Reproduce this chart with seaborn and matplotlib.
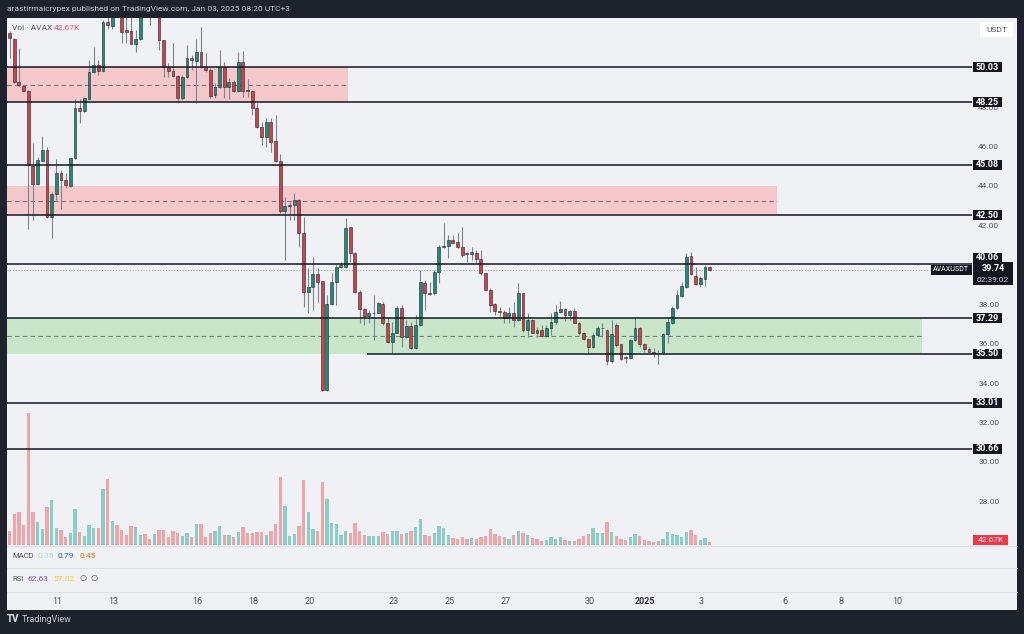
import numpy as np
import pandas as pd
import matplotlib
matplotlib.use("Agg")
import matplotlib.pyplot as plt
from matplotlib.patches import Rectangle
from matplotlib.lines import Line2D
import seaborn as sns

# AVAX/USDT 4h candles, Dec 09 07:00 -> Jan 03 07:00 (UTC+3)
opens = [51.77, 51.45, 49.29, 49.07, 48.82, 45.03, 44.08, 45.28, 45.82, 42.41,
         43.59, 44.64, 44.30, 44.01, 45.40, 47.94, 47.80, 48.41, 49.76, 50.13,
         49.83, 52.33, 52.11, 53.40, 52.90, 51.91, 51.87, 51.22, 51.44, 53.10,
         52.80, 52.70, 53.00, 51.39, 50.05, 49.85, 49.59, 48.44, 49.51, 50.47,
         50.35, 50.81, 50.05, 49.88, 48.61, 49.00, 50.05, 49.00, 49.29, 48.83,
         50.27, 48.87, 48.83, 47.94, 46.99, 46.47, 47.23, 46.30, 45.27, 42.75,
         42.98, 43.05, 43.29, 41.60, 38.64, 38.86, 39.53, 39.18, 33.65, 38.01,
         39.14, 39.87, 39.87, 41.90, 40.62, 38.64, 37.74, 37.40, 37.54, 37.57,
         38.01, 37.03, 36.10, 36.56, 37.83, 36.32, 36.90, 35.76, 36.95, 39.06,
         38.55, 38.55, 39.65, 40.92, 40.95, 41.26, 41.17, 40.88, 40.58, 40.55,
         40.58, 40.28, 39.57, 38.72, 38.02, 37.68, 37.61, 37.29, 37.58, 37.20,
         38.56, 36.70, 37.20, 36.70, 36.70, 36.39, 36.78, 37.09, 37.63, 37.75,
         37.46, 37.68, 37.07, 36.56, 36.22, 35.85, 36.44, 36.78, 36.70, 35.14,
         36.95, 35.99, 35.34, 35.26, 36.19, 36.78, 35.99, 35.75, 35.60, 35.55,
         35.51, 36.49, 37.07, 37.80, 38.44, 38.86, 40.45, 39.44, 39.01, 39.29,
         39.88]
highs = [51.85, 51.50, 50.98, 49.10, 48.85, 46.16, 45.49, 46.53, 45.99, 43.71,
         45.35, 44.81, 44.64, 45.40, 48.41, 48.41, 48.53, 50.39, 51.06, 50.39,
         52.42, 52.70, 53.30, 53.80, 53.10, 52.60, 52.60, 51.91, 53.30, 53.50,
         53.20, 53.40, 53.20, 51.40, 50.22, 51.23, 49.63, 49.63, 51.15, 50.64,
         51.44, 52.08, 50.73, 49.96, 49.20, 50.90, 50.30, 49.46, 49.37, 50.81,
         50.86, 49.41, 48.87, 48.19, 47.26, 47.43, 47.43, 47.60, 45.60, 43.46,
         43.20, 43.63, 43.32, 42.44, 39.82, 40.41, 39.82, 39.20, 38.47, 39.57,
         40.04, 40.16, 42.36, 41.93, 40.67, 38.72, 37.79, 37.71, 38.47, 38.13,
         38.13, 37.37, 37.12, 37.91, 37.96, 37.20, 37.12, 37.45, 39.74, 39.23,
         39.14, 39.74, 41.00, 42.10, 41.51, 41.51, 41.60, 41.93, 40.67, 40.92,
         40.75, 40.75, 39.60, 38.80, 38.08, 37.88, 37.71, 37.85, 38.13, 39.06,
         38.59, 37.54, 37.24, 36.87, 36.95, 36.95, 37.54, 37.97, 38.18, 37.80,
         37.71, 37.80, 37.12, 36.61, 36.27, 36.56, 36.90, 37.07, 36.73, 37.20,
         37.04, 35.99, 35.38, 36.22, 37.29, 36.83, 36.02, 35.85, 35.77, 35.68,
         36.53, 37.37, 37.91, 38.73, 39.15, 40.59, 40.67, 39.91, 39.44, 39.99,
         39.94]
lows = [50.47, 49.20, 49.04, 48.80, 41.80, 42.27, 44.05, 45.28, 42.36, 41.34,
        43.30, 42.81, 43.90, 43.96, 45.35, 47.21, 47.77, 48.36, 49.71, 49.63,
        49.80, 51.95, 51.95, 52.60, 51.23, 51.23, 51.18, 50.81, 51.40, 52.60,
        52.16, 52.60, 50.90, 49.54, 49.54, 49.54, 48.19, 48.36, 49.46, 49.88,
        48.19, 49.96, 49.80, 48.44, 48.44, 48.95, 48.44, 48.39, 48.78, 48.78,
        48.53, 48.53, 47.60, 46.92, 46.08, 45.99, 45.74, 45.23, 42.65, 40.25,
        42.27, 42.27, 40.92, 37.88, 37.54, 37.71, 38.13, 33.60, 33.60, 37.96,
        37.96, 39.82, 39.82, 40.16, 38.55, 37.03, 36.95, 37.03, 36.19, 37.54,
        36.95, 36.02, 35.51, 36.52, 35.85, 36.27, 35.71, 35.71, 36.90, 37.71,
        38.47, 38.47, 39.06, 40.83, 40.33, 41.12, 40.83, 40.41, 40.16, 40.24,
        40.11, 39.48, 38.72, 37.63, 37.46, 37.37, 37.04, 37.07, 36.87, 37.17,
        36.61, 36.36, 36.53, 36.33, 36.36, 36.36, 36.44, 37.00, 37.54, 37.17,
        37.20, 37.04, 36.44, 36.19, 35.51, 35.77, 36.36, 36.36, 34.92, 35.04,
        35.85, 35.18, 35.01, 35.21, 36.16, 35.85, 35.60, 35.58, 35.34, 34.97,
        35.48, 36.02, 37.00, 37.75, 38.39, 38.81, 39.49, 38.98, 38.86, 38.93,
        39.71]
closes = [51.49, 49.29, 49.12, 48.82, 45.06, 44.08, 45.32, 45.82, 42.41, 43.59,
          44.64, 44.30, 44.05, 45.40, 47.94, 47.80, 48.48, 49.76, 50.13, 49.83,
          52.33, 52.16, 52.90, 53.00, 51.79, 51.79, 51.22, 51.44, 53.00, 52.80,
          52.70, 53.00, 51.39, 50.05, 49.85, 49.59, 48.44, 49.51, 50.47, 50.39,
          50.81, 50.05, 49.88, 48.58, 49.00, 50.05, 49.00, 49.29, 48.83, 50.27,
          48.83, 48.83, 47.94, 46.99, 46.47, 47.23, 46.25, 45.27, 42.73, 42.98,
          43.05, 43.29, 41.60, 38.64, 38.86, 39.53, 39.14, 33.65, 38.01, 39.14,
          39.87, 40.00, 41.85, 40.62, 38.64, 37.74, 37.40, 37.54, 37.57, 38.05,
          37.03, 36.10, 36.56, 37.83, 36.32, 36.90, 35.76, 36.95, 39.14, 38.55,
          38.52, 39.65, 40.92, 40.95, 41.26, 41.12, 40.88, 40.50, 40.55, 40.67,
          40.28, 39.57, 38.70, 37.97, 37.68, 37.61, 37.29, 37.58, 37.20, 38.56,
          36.70, 37.20, 36.56, 36.56, 36.39, 36.82, 37.09, 37.59, 37.75, 37.46,
          37.66, 37.07, 36.56, 36.22, 35.85, 36.44, 36.78, 36.82, 35.14, 36.49,
          35.94, 35.21, 35.26, 36.19, 36.78, 35.99, 35.72, 35.60, 35.55, 35.51,
          36.49, 37.09, 37.80, 38.47, 38.90, 40.42, 39.54, 39.01, 39.32, 39.88,
          39.74]
volumes_k = [244, 527, 555, 340, 2238, 555, 385, 272, 646, 759,
             295, 255, 142, 198, 618, 227, 153, 340, 283, 295,
             952, 1128, 408, 340, 255, 170, 323, 306, 170, 187,
             108, 187, 249, 255, 142, 238, 198, 153, 210, 130,
             363, 351, 130, 210, 244, 329, 170, 170, 130, 221,
             306, 204, 210, 221, 227, 170, 244, 363, 1162, 663,
             159, 187, 329, 1105, 561, 272, 244, 1071, 782, 374,
             363, 170, 244, 204, 374, 244, 170, 153, 153, 153,
             221, 187, 244, 238, 187, 204, 244, 306, 442, 170,
             153, 210, 329, 283, 176, 119, 96, 130, 108, 119,
             96, 142, 153, 272, 181, 153, 130, 96, 164, 244,
             210, 170, 119, 96, 62, 85, 130, 96, 142, 85,
             62, 62, 108, 153, 181, 295, 198, 210, 397, 221,
             153, 102, 85, 130, 187, 153, 85, 74, 57, 68,
             96, 215, 187, 170, 142, 227, 255, 170, 85, 113,
             43]

levels = [50.03, 48.25, 45.08, 42.50, 40.06, 37.29, 33.01, 30.66]
support_level = 35.50
support_start = 13.06          # days after Dec 09
last_price = 39.74
last_volume = "42.67K"
countdown = "02:39:02"

zone_lows = [48.25, 42.50, 35.50]
zone_highs = [50.03, 44.01, 37.29]
zone_ends = [12.38, 27.70, 32.88]     # days after Dec 09
zone_kinds = ["supply", "supply", "demand"]

tick_days = [2, 4, 7, 9, 11, 14, 16, 18, 21, 23, 25, 28, 30, 32]
tick_labels = ["11", "13", "16", "18", "20", "23", "25", "27", "30", "2025", "3", "6", "8", "10"]
# 40, 50 and 52 sit under the price boxes in the screenshot
price_ticks = [28, 30, 32, 34, 36, 38, 42, 44, 46, 48]

# ------------------------
# style
# ------------------------
DARK = "#1e222d"
BG = "#eff1f4"
TXT = "#50535e"
UP, DN = "#1f8a77", "#c9434f"
VOL_UP, VOL_DN = "#8dcdc7", "#f0a5a8"
INK = "#131722"

sns.set_style("white")
plt.rcParams["font.family"] = ["Roboto", "DejaVu Sans"]

W, H = 1024, 634
fig = plt.figure(figsize=(W / 100, H / 100), dpi=100, facecolor=DARK)


def fx(px):
    return px / W


def fy(py):
    return 1 - py / H


# price <-> pixel mapping of the main pane
PX_UNIT, REF_P, REF_PX = 19.72, 50.03, 67
TOP_PX, BOT_PX, LEFT_PX, RIGHT_PX = 18, 545, 7, 972


def ppx(price):
    return REF_PX + (REF_P - price) * PX_UNIT


fig.patches.append(Rectangle((fx(7), fy(610)), fx(1017) - fx(7), fy(18) - fy(610),
                             transform=fig.transFigure, fc=BG, ec="none", zorder=-1))

rect = [fx(LEFT_PX), fy(BOT_PX), fx(RIGHT_PX) - fx(LEFT_PX), fy(TOP_PX) - fy(BOT_PX)]
ax_vol = fig.add_axes(rect, zorder=1)
ax = fig.add_axes(rect, sharex=ax_vol, zorder=2)

times = pd.date_range("2024-12-09 07:00", periods=len(opens), freq="4h")
days = ((times - pd.Timestamp("2024-12-09")) / pd.Timedelta(days=1)).to_numpy()
o, h, l, c = map(np.asarray, (opens, highs, lows, closes))
up = c >= o

# volume overlay
df = pd.DataFrame({"t": days, "vol": volumes_k, "dir": np.where(up, "up", "down")})
sns.barplot(data=df, x="t", y="vol", hue="dir", palette={"up": VOL_UP, "down": VOL_DN},
            native_scale=True, dodge=False, width=0.72, saturation=1, legend=False,
            errorbar=None, linewidth=0, ax=ax_vol)
ax_vol.set_ylim(0, 17 * (BOT_PX - TOP_PX))

# zones
for lo, hi, end, kind in zip(zone_lows, zone_highs, zone_ends, zone_kinds):
    fc = "#f5c8cc" if kind == "supply" else "#c9e6cb"
    dc = "#8a6d71" if kind == "supply" else "#6f8a72"
    ax.fill_between([-1, end], lo, hi, color=fc, lw=0, zorder=1)
    ax.hlines((lo + hi) / 2, -1, end, colors=dc, linestyles=(0, (4, 3)), lw=0.8, zorder=2)

ax.axhline(last_price, color="#9ea2ab", ls=(0, (1, 1.5)), lw=0.8, zorder=2)

# candles
ax.vlines(days, l, h, color="#80848d", lw=0.8, zorder=3)
ax.bar(days, np.maximum(np.abs(c - o), 0.04), bottom=np.minimum(o, c), width=0.1,
       color=np.where(up, UP, DN), edgecolor="#2a2a2a", linewidth=0.4, zorder=4)

# horizontal levels
for lv in levels:
    ax.axhline(lv, color=INK, lw=1.1, zorder=5)
ax.hlines(support_level, support_start, 40, colors=INK, lw=1.1, zorder=5)

ax.set_xlim(0.2, 0.2 + (RIGHT_PX - LEFT_PX) / 28)
ax.set_ylim(REF_P - (BOT_PX - REF_PX) / PX_UNIT, REF_P + (REF_PX - TOP_PX) / PX_UNIT)
ax.yaxis.tick_right()
ax.set_yticks(price_ticks)
ax.set_yticklabels([f"{v:.2f}" for v in price_ticks])
ax.tick_params(axis="y", length=0, pad=4.5, labelsize=6, labelcolor=TXT)
for a in (ax, ax_vol):
    a.patch.set_visible(False)
    a.tick_params(axis="x", bottom=False, labelbottom=False)
    for s in a.spines.values():
        s.set_visible(False)
    a.set_xlabel("")
    a.set_ylabel("")
ax_vol.set_yticks([])

# date axis
ax_date = fig.add_axes([fx(LEFT_PX), fy(591), fx(RIGHT_PX) - fx(LEFT_PX), fy(545) - fy(591)])
ax_date.patch.set_visible(False)
ax_date.set_xlim(ax.get_xlim())
ax_date.set_yticks([])
ax_date.set_xticks(tick_days)
ax_date.set_xticklabels(tick_labels)
ax_date.tick_params(axis="x", length=0, pad=4, labelsize=6.5, labelcolor=TXT)
for s in ax_date.spines.values():
    s.set_visible(False)
for lab in ax_date.get_xticklabels():
    if lab.get_text() == "2025":
        lab.set_fontweight("bold")
        lab.set_color("#2a2e39")

for py in (545.5, 568, 591.5):
    fig.add_artist(Line2D([fx(7), fx(1017)], [fy(py)] * 2, transform=fig.transFigure,
                          color="#dde0e6", lw=0.8))


def box(x0, x1, yc, hgt, fc, text=None, color="white", size=6.5, weight="bold"):
    fig.patches.append(Rectangle((fx(x0), fy(yc + hgt / 2)), fx(x1) - fx(x0), hgt / H,
                                 transform=fig.transFigure, fc=fc, ec="none", zorder=6))
    if text:
        fig.text(fx((x0 + x1) / 2), fy(yc), text, ha="center", va="center", color=color,
                 fontsize=size, fontweight=weight, zorder=7)


for lv in levels:
    yc = ppx(lv) if lv != 40.06 else 258
    box(973, 1002, yc, 10, INK, f"{lv:.2f}")
box(973, 1002, ppx(support_level), 10, INK, f"{support_level:.2f}")

yp = ppx(last_price)
box(931, 972, yp, 10, INK, "AVAXUSDT", size=5.1, weight="normal")
box(973, 1013, yp + 3.5, 23, INK)
fig.text(fx(993), fy(yp - 1), f"{last_price:.2f}", ha="center", va="center",
         color="white", fontsize=6.5, fontweight="bold", zorder=7)
fig.text(fx(993), fy(yp + 10.5), countdown, ha="center", va="center",
         color="#c8cbd2", fontsize=6, zorder=7)
box(980, 1013, 29.5, 15, "white", "USDT", color=TXT, size=6, weight="normal")
box(973, 1008, 540, 10, "#f23645", last_volume, size=6, weight="normal")

# header, legends, footer
fig.text(fx(7), fy(9.5), "arastirmaicrypex published on TradingView.com, Jan 03, 2025 08:20 UTC+3",
         color="#c9ccd4", fontsize=6, va="center")
fig.text(fx(12), fy(28.5), "Vol · AVAX", color=TXT, fontsize=6, va="center")
fig.text(fx(54), fy(28.5), last_volume, color="#f7525f", fontsize=6, va="center")

fig.text(fx(12), fy(556), "MACD", color=TXT, fontsize=5.5, va="center")
fig.text(fx(37), fy(556), "0.35", color="#b2dfdb", fontsize=6, va="center")
fig.text(fx(58), fy(556), "0.79", color="#2962ff", fontsize=6, va="center")
fig.text(fx(79), fy(556), "0.45", color="#ff6d00", fontsize=6, va="center")

fig.text(fx(12), fy(579), "RSI", color=TXT, fontsize=5.5, va="center")
fig.text(fx(28), fy(579), "62.63", color="#7e57c2", fontsize=6, va="center")
fig.text(fx(53), fy(579), "57.02", color="#f2d33c", fontsize=6, va="center")
fig.text(fx(79), fy(579), "∅", color=TXT, fontsize=6, va="center")
fig.text(fx(90), fy(579), "∅", color=TXT, fontsize=6, va="center")

fig.text(fx(7), fy(619), "TV", color="#d1d4dc", fontsize=7, fontweight="black", va="center")
fig.text(fx(22), fy(619), "TradingView", color="#c9ccd4", fontsize=6.5, va="center")

fig.savefig("out.png", dpi=100, facecolor=DARK)
